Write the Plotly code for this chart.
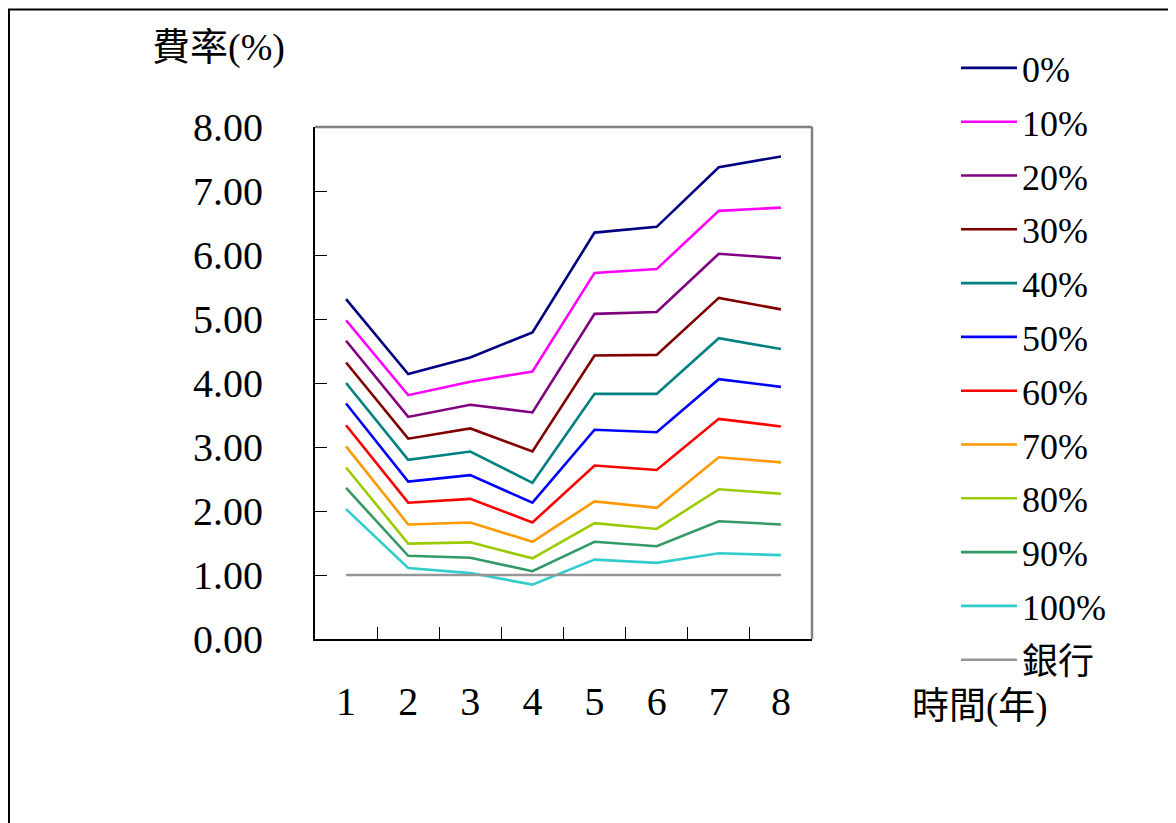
import plotly.graph_objects as go

years = ["1", "2", "3", "4", "5", "6", "7", "8"]
series_names = ["0%", "10%", "20%", "30%", "40%", "50%", "60%", "70%", "80%", "90%", "100%", "銀行"]
s0 = [5.31, 4.14, 4.40, 4.79, 6.35, 6.44, 7.37, 7.54]
s10 = [4.98, 3.81, 4.02, 4.18, 5.72, 5.78, 6.69, 6.74]
s20 = [4.66, 3.47, 3.66, 3.54, 5.08, 5.11, 6.02, 5.95]
s30 = [4.32, 3.13, 3.29, 2.93, 4.43, 4.44, 5.33, 5.15]
s40 = [4.00, 2.80, 2.93, 2.44, 3.83, 3.83, 4.70, 4.53]
s50 = [3.68, 2.46, 2.56, 2.13, 3.27, 3.23, 4.06, 3.94]
s60 = [3.34, 2.13, 2.19, 1.82, 2.71, 2.64, 3.44, 3.32]
s70 = [3.01, 1.79, 1.82, 1.52, 2.15, 2.05, 2.84, 2.76]
s80 = [2.68, 1.49, 1.51, 1.26, 1.81, 1.72, 2.34, 2.27]
s90 = [2.36, 1.30, 1.27, 1.06, 1.52, 1.45, 1.84, 1.79]
s100 = [2.03, 1.11, 1.03, 0.85, 1.24, 1.19, 1.34, 1.31]
bank = [1.00, 1.00, 1.00, 1.00, 1.00, 1.00, 1.00, 1.00]
all_series = [s0, s10, s20, s30, s40, s50, s60, s70, s80, s90, s100, bank]
colors = ["#000080", "#FF00FF", "#800080", "#800000", "#008080", "#0000FF",
          "#FF0000", "#FF9900", "#99CC00", "#339966", "#33CCCC", "#969696"]

FONT = "Liberation Serif, Noto Sans CJK TC, serif"

# plot area in figure pixels
W, H = 1176, 823
L, R, T, B = 307, 804, 119, 631
pw, ph = R - L, B - T


def px_x(p):
    return (p - L) / pw


def px_y(p):
    return (B - p) / ph


fig = go.Figure()
for i, (name, vals, col) in enumerate(zip(series_names, all_series, colors)):
    fig.add_trace(go.Scatter(
        x=years, y=vals, name=name, mode="lines",
        line=dict(color=col, width=2.6),
        legendgroup=f"g{i}",
    ))

fig.update_layout(
    width=W, height=H,
    margin=dict(l=L, r=W - R, t=T, b=H - B, autoexpand=False),
    paper_bgcolor="white", plot_bgcolor="white",
    font=dict(family=FONT, color="black", size=36),
    showlegend=True,
    legend=dict(
        x=px_x(948), y=px_y(30), xanchor="left", yanchor="top",
        font=dict(family=FONT, size=36, color="black"),
        bgcolor="rgba(0,0,0,0)", tracegroupgap=4,
        itemwidth=56,
        maxheight=800,
    ),
    xaxis=dict(
        type="category", tickson="boundaries", ticks="inside", ticklen=12,
        tickcolor="black", tickwidth=1.3,
        showline=True, linecolor="black", linewidth=2,
        showgrid=False, zeroline=False,
        tickfont=dict(family=FONT, size=40),
        ticklabelstandoff=26,
        range=[-0.5, 7.5],
    ),
    yaxis=dict(
        range=[0, 8], dtick=1, tickformat=".2f", ticks="inside", ticklen=12,
        tickcolor="black", tickwidth=1.3,
        showline=True, linecolor="black", linewidth=2,
        showgrid=False, zeroline=False,
        tickfont=dict(family=FONT, size=40),
        ticklabelstandoff=42,
    ),
)

# top and right frame of plot area (grey)
fig.add_shape(type="line", xref="paper", yref="paper", x0=0, x1=1, y0=1, y1=1,
              line=dict(color="#808080", width=2.5))
fig.add_shape(type="line", xref="paper", yref="paper", x0=1, x1=1, y0=0, y1=1,
              line=dict(color="#808080", width=2.5))
# outer chart frame
fig.add_shape(type="rect", xref="paper", yref="paper",
              x0=px_x(1), x1=px_x(W - 1), y0=px_y(1.5), y1=px_y(H - 1),
              line=dict(color="black", width=2))

fig.add_annotation(text="費率(%)", xref="paper", yref="paper",
                   x=px_x(210), y=px_y(39), showarrow=False,
                   xanchor="center", yanchor="middle",
                   font=dict(family=FONT, size=38, color="black"))
fig.add_annotation(text="時間(年)", xref="paper", yref="paper",
                   x=px_x(972), y=px_y(699), showarrow=False,
                   xanchor="center", yanchor="middle",
                   font=dict(family=FONT, size=37, color="black"))

fig.write_html("out.html")
